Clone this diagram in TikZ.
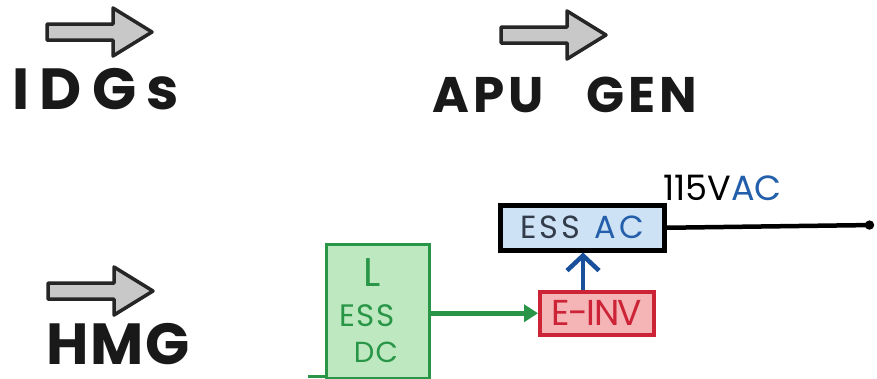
\documentclass[tikz,border=0pt]{standalone}
\usepackage{fontspec}
\setmainfont{Poppins}
\usetikzlibrary{arrows.meta}
\definecolor{gfill}{RGB}{190,232,192}
\definecolor{gline}{RGB}{40,150,70}
\definecolor{rfill}{RGB}{245,180,182}
\definecolor{rline}{RGB}{205,35,55}
\definecolor{bfill}{RGB}{205,226,244}
\definecolor{bline}{RGB}{25,80,155}
\definecolor{btext}{RGB}{35,95,170}
\definecolor{dtext}{RGB}{50,60,75}
\definecolor{afill}{RGB}{200,200,200}
\tikzset{
  bigarrow/.style={draw=black!85, fill=afill, line width=3.5pt, line join=round},
  biglabel/.style={text=black!90, inner sep=0pt},
  box/.style={draw, inner sep=0pt}
}
\newcommand{\blockarrow}[2]{% x, y(centre)
  \draw[bigarrow] (#1,#2-8) -- ++(66,0) -- ++(0,-16) -- ++(39,24) -- ++(-39,24) -- ++(0,-16) -- ++(-66,0) -- cycle;
}
\begin{document}
\begin{tikzpicture}[x=1pt,y=-1pt]
\useasboundingbox (0,0) rectangle (877,378);
\fill[white] (0,0) rectangle (877,378);
% block arrows
\blockarrow{47}{32}
\blockarrow{501}{35}
\blockarrow{48}{291}
% labels
\node[biglabel, anchor=west, font=\fontsize{58}{58}\selectfont\bfseries\addfontfeatures{LetterSpace=18}] (idg) at (12,89) {IDGs};
\node[biglabel, anchor=west, font=\fontsize{50}{50}\selectfont\bfseries\addfontfeatures{LetterSpace=8}] (apu) at (432,95) {APU\hspace{0.85em}GEN};
\node[biglabel, anchor=west, font=\fontsize{58}{58}\selectfont\bfseries\addfontfeatures{LetterSpace=3}] (hmg) at (46,344) {HMG};
% boxes
\node[box, draw=gline, line width=3pt, fill=gfill, minimum width=103pt, minimum height=134pt, anchor=north west] (dc) at (325,243) {};
\node[text=gline, font=\fontsize{40}{40}\selectfont, inner sep=0pt] (dcl) at (372,273) {L};
\node[text=gline, font=\fontsize{31}{31}\selectfont\addfontfeatures{LetterSpace=4}, inner sep=0pt] (dce) at (367,316) {ESS};
\node[text=gline, font=\fontsize{29}{29}\selectfont\addfontfeatures{LetterSpace=4}, inner sep=0pt] (dcd) at (376,352) {DC};
\node[box, draw=rline, line width=3.5pt, fill=rfill, minimum width=114pt, minimum height=43pt, anchor=north west, text=rline, font=\fontsize{36}{36}\selectfont\addfontfeatures{LetterSpace=-4}] (inv) at (538,290) {E-INV};
\node[box, draw=black, line width=4.5pt, fill=bfill, minimum width=164pt, minimum height=45pt, anchor=north west, font=\fontsize{32}{32}\selectfont\addfontfeatures{LetterSpace=10}] (ac) at (498,203) {\textcolor{dtext}{ESS}\hspace{0.45em}\textcolor{btext}{AC}};
% connectors
\draw[gline, line width=5pt, -{Triangle[length=14pt,width=17pt]}] (dc.east |- inv.west) -- (inv.west);
\draw[bline, line width=4.5pt, -{Straight Barb[length=15pt,width=32pt]}] (inv.north -| 583,0) -- (ac.south -| 583,0);
\coordinate (out) at (874,225);
\draw[black, line width=4.5pt, -{Circle[length=9pt]}] (ac.east) -- (out);
\draw[gline, line width=3pt] (dc.south west) ++(-17,-4) -- ++(17,0);
\node[font=\fontsize{35}{35}\selectfont, anchor=south west, inner sep=0pt] (v) at (663,201) {115V\textcolor{btext}{AC}};
\end{tikzpicture}
\end{document}
